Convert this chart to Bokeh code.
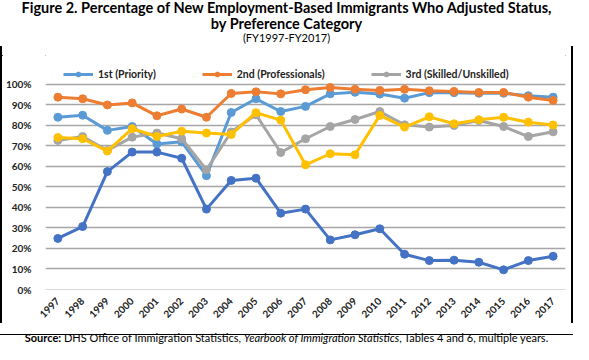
from bokeh.plotting import figure
from bokeh.models import (FixedTicker, PrintfTickFormatter, Legend, LegendItem,
                          Range1d, Div)
from bokeh.layouts import column, row
from bokeh.embed import file_html
from bokeh.resources import INLINE
from math import pi

years = list(range(1997, 2018))
first_priority = [84, 85, 77.6, 79.5, 71, 72, 55.5, 86.3, 93, 86.8, 89.3, 95.4, 96.2, 95.3, 93.3, 96, 96, 95.7, 95.7, 94.5, 93.8]
second_prof = [93.8, 93, 90, 91, 84.7, 88, 84, 95.6, 96.4, 95.4, 97.4, 98.5, 97.6, 97.1, 97.6, 96.9, 96.6, 96.1, 96.1, 93.8, 92.2]
third_skilled = [72.7, 74.6, 67.8, 74.3, 76.3, 73.5, 58.4, 76.8, 85.2, 66.8, 73.5, 79.5, 82.9, 86.8, 80.3, 79.2, 80, 82.4, 79.5, 74.6, 76.9]
fourth_special = [74.1, 73.5, 67.5, 78.4, 74.6, 77.2, 76.3, 75.6, 86.2, 82.6, 60.8, 66.2, 65.7, 84.9, 79.2, 84.2, 80.8, 82.8, 84, 81.6, 80.2]
fifth_investors = [24.9, 30.7, 57.5, 67, 67, 64, 39.2, 53.2, 54.3, 37.2, 39.2, 24.2, 26.7, 29.6, 17.2, 14.1, 14.3, 13.3, 9.6, 14.1, 16.2]
y_ticks = list(range(0, 101, 10))

W = 573
PH = 277
title_html = (
    '<div style="font-family:Lato;text-align:center;width:573px;color:#000;">'
    '<div style="font-weight:bold;font-size:14.5px;line-height:16px;">'
    'Figure 2. Percentage of New Employment-Based Immigrants Who Adjusted Status,</div>'
    '<div style="font-weight:bold;font-size:14.5px;line-height:16px;">by Preference Category</div>'
    '<div style="font-size:11px;line-height:12px;">(FY1997-FY2017)</div></div>'
)
title = Div(text=title_html, width=W, height=44, margin=(0, 0, 0, 0))

def hline():
    return Div(text='<div style="width:%dpx;height:1.5px;background:#000;"></div>' % W,
               width=W, height=2, margin=(0, 0, 0, 0))

def vline():
    return Div(text='<div style="width:1.5px;height:%dpx;background:#000;"></div>' % PH,
               width=2, height=PH, margin=(0, 0, 0, 0))

FRAME_H = 235
p = figure(width=W - 4, height=PH, output_backend="svg", toolbar_location=None,
           x_range=Range1d(1996.5, 2017.5), y_range=Range1d(0, 114.6),
           min_border_left=42, min_border_right=6, min_border_top=8, min_border_bottom=34,
           margin=(0, 0, 0, 0))
p.outline_line_color = None
p.background_fill_color = "white"
p.border_fill_color = "white"

p.xgrid.grid_line_color = None
p.ygrid.grid_line_color = "#A6A6A6"
p.ygrid.grid_line_width = 1.5
p.ygrid.ticker = FixedTicker(ticks=y_ticks[1:])

p.yaxis.ticker = FixedTicker(ticks=y_ticks)
p.yaxis.formatter = PrintfTickFormatter(format="%d%%")
p.yaxis.axis_line_color = None
p.yaxis.major_tick_line_color = None
p.yaxis.minor_tick_line_color = None
p.yaxis.major_label_text_font = "Lato"
p.yaxis.major_label_text_font_style = "bold"
p.yaxis.major_label_text_font_size = "10px"
p.yaxis.major_label_text_color = "#222222"
p.yaxis.major_label_standoff = 8

p.xaxis.ticker = FixedTicker(ticks=years)
p.xaxis.axis_line_color = "#D9D9D9"
p.xaxis.axis_line_width = 1
p.xaxis.major_tick_line_color = None
p.xaxis.minor_tick_line_color = None
p.xaxis.major_label_orientation = pi / 4
p.xaxis.major_label_text_font = "Lato"
p.xaxis.major_label_text_font_style = "bold"
p.xaxis.major_label_text_font_size = "10px"
p.xaxis.major_label_text_color = "#222222"
p.xaxis.major_label_standoff = 4

series = [
    (first_priority, "#5B9BD5", "1st (Priority)"),
    (second_prof, "#ED7D31", "2nd (Professionals)"),
    (third_skilled, "#A5A5A5", "3rd (Skilled/Unskilled)"),
    (fourth_special, "#FFC000", None),
    (fifth_investors, "#4472C4", None),
]
items = []
for vals, color, name in series:
    r1 = p.line(years, vals, line_color=color, line_width=3)
    r2 = p.scatter(years, vals, size=8, fill_color=color, line_color=color)
    if name:
        items.append(LegendItem(label=name, renderers=[r1, r2]))

legend = Legend(items=items, orientation="horizontal", location=(18, FRAME_H - 26),
                label_text_font="Lato", label_text_font_style="bold",
                label_text_font_size="10.5px", label_text_color="#222222",
                glyph_width=30, glyph_height=12, spacing=46, padding=2, margin=0,
                border_line_color=None, background_fill_alpha=0)
p.add_layout(legend)

source_html = (
    '<div style="font-family:Lato;font-size:11px;line-height:14px;text-align:center;width:573px;color:#000;">'
    '<b>Source:</b> DHS Office of Immigration Statistics, '
    '<i>Yearbook of Immigration Statistics</i>, Tables 4 and 6, multiple years.</div>'
)
source = Div(text=source_html, width=W, height=15, margin=(5, 0, 0, 0))

boxed = row(vline(), p, vline(), spacing=0, margin=(0, 0, 0, 0))
layout = column(title, hline(), boxed, hline(), source, spacing=0)
open("out.html", "w").write(file_html(layout, INLINE))
